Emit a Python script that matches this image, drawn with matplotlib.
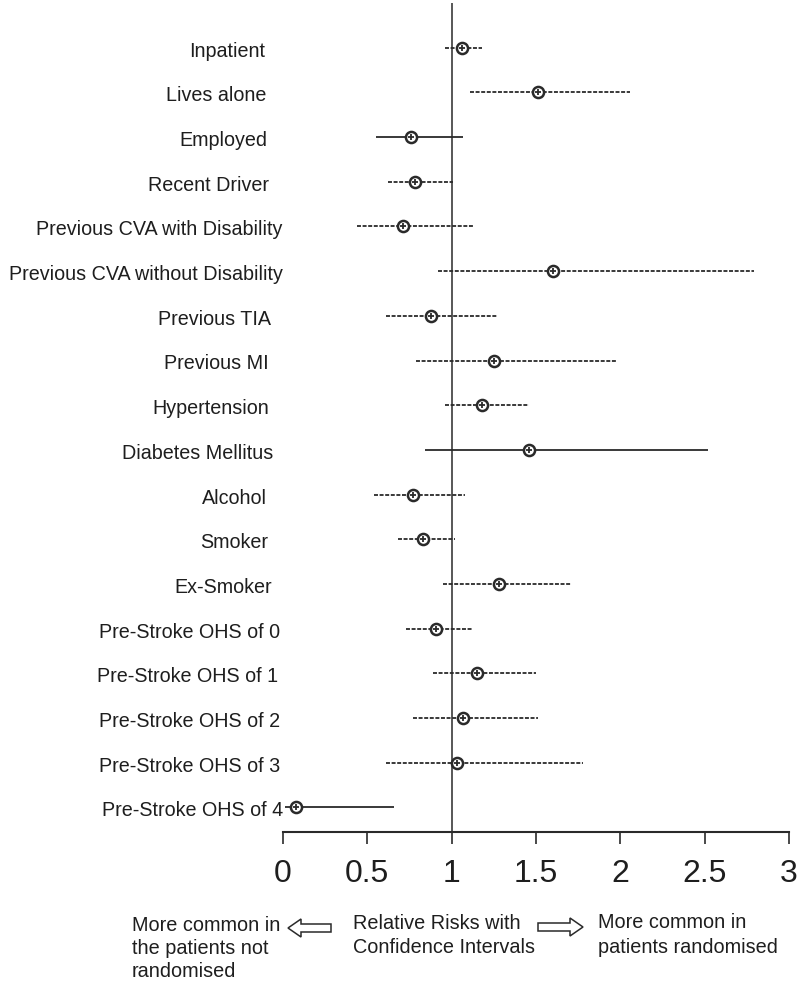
import matplotlib
matplotlib.use("Agg")
import matplotlib.pyplot as plt
from matplotlib.patches import FancyArrow

plt.rcParams["font.family"] = ["Liberation Sans", "DejaVu Sans"]

# Baseline characteristics: relative risk with lower / upper confidence limits
factors = [
    "Inpatient", "Lives alone", "Employed", "Recent Driver",
    "Previous CVA with Disability", "Previous CVA without Disability",
    "Previous TIA", "Previous MI", "Hypertension", "Diabetes Mellitus",
    "Alcohol", "Smoker", "Ex-Smoker",
    "Pre-Stroke OHS of 0", "Pre-Stroke OHS of 1", "Pre-Stroke OHS of 2",
    "Pre-Stroke OHS of 3", "Pre-Stroke OHS of 4",
]
rr = [1.06, 1.51, 0.76, 0.78, 0.71, 1.60, 0.88, 1.25, 1.18, 1.46,
      0.77, 0.83, 1.28, 0.91, 1.15, 1.07, 1.03, 0.08]
ci_low = [0.96, 1.11, 0.55, 0.62, 0.44, 0.92, 0.61, 0.79, 0.96, 0.84,
          0.54, 0.68, 0.95, 0.73, 0.89, 0.77, 0.61, 0.01]
ci_high = [1.18, 2.06, 1.07, 1.01, 1.13, 2.79, 1.27, 1.98, 1.46, 2.52,
           1.08, 1.02, 1.71, 1.12, 1.50, 1.51, 1.78, 0.66]
xticks = [0, 0.5, 1, 1.5, 2, 2.5, 3]
xtick_labels = ["0", "0.5", "1", "1.5", "2", "2.5", "3"]

# line style of each interval and right edge (px) of each row label
line_kinds = ["d", "d", "s", "d", "d", "d", "d", "d", "d", "s",
              "d", "d", "d", "d", "d", "d", "d", "s"]
label_right = [265, 266, 267, 269, 282, 283, 271, 269, 269, 273,
               267, 268, 272, 280, 278, 280, 280, 283]

ink = "#2a2a2a"
W, H = 797, 983
fig = plt.figure(figsize=(W / 100, H / 100), dpi=100)
ax = fig.add_axes([283 / W, (H - 832) / H, 506 / W, 829 / H])

for i in range(len(factors)):
    ls = "-" if line_kinds[i] == "s" else (0, (2.2, 0.9))
    ax.plot([ci_low[i], ci_high[i]], [i, i], color=ink, lw=1.3, ls=ls,
            solid_capstyle="butt", zorder=2)
    ax.plot(rr[i], i, marker="o", ms=8, mfc="white", mec=ink, mew=1.8, zorder=3)
    ax.plot(rr[i], i, marker="+", ms=5, mec=ink, mew=1.3, zorder=4)
    ax.annotate(factors[i], xy=(label_right[i], i + 0.2),
                xycoords=("figure pixels", "data"),
                ha="right", va="baseline", fontsize=14.2, color="#1e1e1e",
                annotation_clip=False)

ax.axvline(1, color=ink, lw=1.1, zorder=1)

ax.set_xlim(0, 3)
ax.set_ylim(17.55, -1.0)
ax.set_xticks(xticks)
ax.set_xticklabels(xtick_labels, fontsize=23, color="#1e1e1e")
ax.tick_params(axis="x", direction="out", length=8.6, width=1.2,
               color=ink, pad=11)
ax.set_yticks([])
for side in ["top", "right", "left"]:
    ax.spines[side].set_visible(False)
ax.spines["bottom"].set_color(ink)
ax.spines["bottom"].set_linewidth(1.5)

# explanatory notes under the axis
note_kw = dict(fontsize=14.3, color="#1e1e1e", va="baseline", ha="left")
fig.text(132 / W, 1 - 931 / H, "More common in", **note_kw)
fig.text(132 / W, 1 - 954 / H, "the patients not", **note_kw)
fig.text(132 / W, 1 - 977 / H, "randomised", **note_kw)
fig.text(353 / W, 1 - 929 / H, "Relative Risks with", **note_kw)
fig.text(353 / W, 1 - 953 / H, "Confidence Intervals", **note_kw)
fig.text(598 / W, 1 - 928 / H, "More common in", **note_kw)
fig.text(598 / W, 1 - 953 / H, "patients randomised", **note_kw)

# hollow block arrows pointing left and right
arrow_kw = dict(width=8 / H, head_width=18 / H, head_length=13 / W,
                length_includes_head=True, facecolor="white",
                edgecolor=ink, lw=1.1, transform=fig.transFigure)
fig.patches.append(FancyArrow(331 / W, 1 - 928 / H, -43 / W, 0, **arrow_kw))
fig.patches.append(FancyArrow(538 / W, 1 - 927 / H, 45 / W, 0, **arrow_kw))

fig.savefig("out.png", dpi=100)
